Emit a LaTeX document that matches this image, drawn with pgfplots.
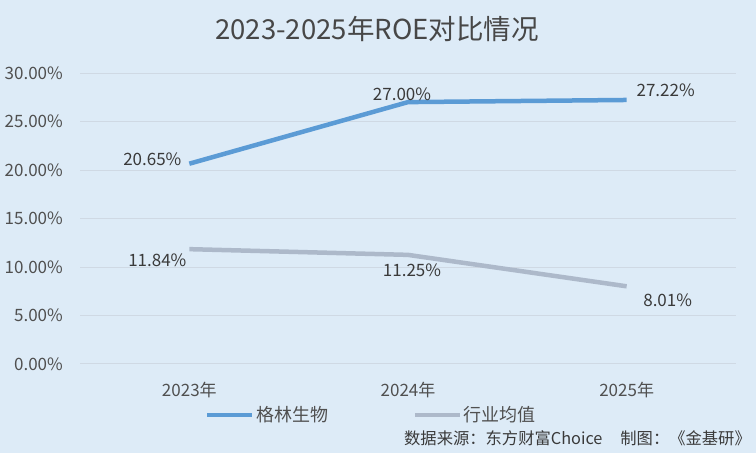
\documentclass[border=0pt]{standalone}
\usepackage{fontspec}
\setmainfont{Noto Sans CJK SC}
\usepackage{pgfplots}
\pgfplotsset{compat=1.18}
\usepackage{pgfplotstable}
\definecolor{bg}{HTML}{DDEBF7}
\definecolor{gridc}{HTML}{CFD9E4}
\definecolor{blueline}{HTML}{5B9BD5}
\definecolor{grayline}{HTML}{ADB9CA}
\definecolor{titlec}{HTML}{474747}
\definecolor{tickc}{HTML}{505050}
\definecolor{labc}{HTML}{3A3A3A}

\pgfplotstableread{
x y dx dy
0 20.65 -37 -2
1 27.00 -6 2
2 27.22 39 3
}\greenlin
\pgfplotstableread{
x y dx dy
0 11.84 -32 -17
1 11.25 4 -22
2 8.01 41 -20
}\industry

\begin{document}
\begin{tikzpicture}[x=1pt,y=1pt]
\fill[bg] (0,0) rectangle (756,453);
\node[anchor=base, inner sep=0pt, font=\fontsize{27.5}{30}\selectfont, text=titlec] at (377,413) {2023-2025年ROE对比情况};
\node[anchor=base east, inner sep=0pt, font=\fontsize{16.3}{18}\selectfont, text=labc] at (751,8) {数据来源：东方财富Choice\hspace{1.1em}制图：《金基研》};
\begin{axis}[
  at={(80pt,89pt)}, anchor=south west,
  scale only axis, width=656pt, height=291pt,
  xmin=-0.5, xmax=2.5, ymin=0, ymax=30,
  clip=false,
  axis line style={draw=none},
  major tick length=0pt,
  ymajorgrids, grid style={gridc, line width=1pt},
  xtick={0,1,2}, xticklabels={2023年,2024年,2025年},
  ytick={0,5,10,15,20,25,30},
  /pgf/number format/assume math mode=true,
  yticklabel={\pgfmathprintnumber[fixed,fixed zerofill,precision=2]{\tick}\%},
  y tick label style={anchor=east, inner sep=0pt, xshift=-17pt, font=\fontsize{17}{19}\selectfont, text=tickc},
  x tick label style={anchor=base, inner sep=0pt, yshift=-32pt, font=\fontsize{17}{19}\selectfont, text=tickc},
  point meta=y,
  visualization depends on={\thisrow{dx} \as \dx},
  visualization depends on={\thisrow{dy} \as \dy},
  nodes near coords={\pgfmathprintnumber[fixed,fixed zerofill,precision=2]{\pgfplotspointmeta}\%},
  every node near coord/.append style={anchor=base, inner sep=0pt, xshift=\dx pt, yshift=\dy pt, font=\fontsize{17}{19}\selectfont, text=labc},
  legend style={at={(0.4436,-0.175)}, anchor=center, draw=none, fill=none,
    font=\fontsize{18}{20}\selectfont, text=tickc, nodes={inner sep=1.5pt},
    /tikz/every even column/.append style={column sep=83pt}},
  legend columns=2,
  legend image code/.code={\draw[#1, line width=4.5pt] (0pt,0pt) -- (45pt,0pt);},
]
\addplot[blueline, line width=4.5pt, line join=round, mark=none] table[x=x,y=y] {\greenlin};
\addlegendentry{格林生物}
\addplot[grayline, line width=4.5pt, line join=round, mark=none] table[x=x,y=y] {\industry};
\addlegendentry{行业均值}
\end{axis}
\end{tikzpicture}
\end{document}
